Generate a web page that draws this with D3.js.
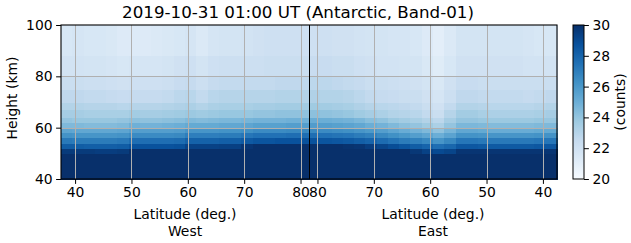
<!DOCTYPE html>
<html>
<head>
<meta charset="utf-8">
<script src="https://cdn.jsdelivr.net/npm/d3@7"></script>
<style>
	body { margin: 0; background: #fff; }
	svg { display: block; font-family: "DejaVu Sans", sans-serif; }
</style>
</head>
<body>
<div id="chart"></div>
<script>
// height bin edges (km), bottom to top
var heightEdges = [40, 50, 52, 54, 56, 58, 60, 62, 64, 67, 70, 75, 80, 88, 100];

// column centres (deg), 2 deg wide, in drawing order
var westLat = [38.5, 40.5, 42.5, 44.5, 46.5, 48.5, 50.5, 52.5, 54.5, 56.5, 58.5,
	60.5, 62.5, 64.5, 66.5, 68.5, 70.5, 72.5, 74.5, 76.5, 78.5, 80.5];
var eastLat = [80.5, 78.5, 76.5, 74.5, 72.5, 70.5, 68.5, 66.5, 64.5, 62.5, 60.5,
	58.5, 56.5, 54.5, 52.5, 50.5, 48.5, 46.5, 44.5, 42.5, 40.5, 38.5];

// counts per column, one value per height bin (bottom to top)
var westCounts = [
	[31, 29.6, 28.3, 27.2, 26.2, 25.4, 24.5, 24.0, 23.5, 23.1, 22.7, 22.3, 21.9, 21.6],
	[31, 29.6, 28.3, 27.1, 26.1, 25.3, 24.5, 23.9, 23.5, 23.1, 22.7, 22.3, 21.9, 21.7],
	[31, 29.6, 28.2, 27.1, 26.1, 25.3, 24.4, 23.9, 23.4, 23.0, 22.6, 22.2, 21.8, 21.6],
	[31, 29.5, 28.2, 27.1, 26.1, 25.3, 24.4, 23.9, 23.4, 23.0, 22.6, 22.2, 21.8, 21.6],
	[31, 29.5, 28.2, 27.1, 26.1, 25.3, 24.4, 23.9, 23.4, 23.0, 22.5, 22.1, 21.7, 21.5],
	[31, 29.6, 28.3, 27.2, 26.2, 25.4, 24.5, 24.0, 23.4, 22.9, 22.4, 22.0, 21.6, 21.3],
	[31, 30.0, 28.7, 27.6, 26.5, 25.7, 24.9, 24.2, 23.6, 23.0, 22.5, 22.1, 21.7, 21.3],
	[31, 30.0, 28.7, 27.6, 26.5, 25.7, 24.8, 24.1, 23.5, 23.0, 22.5, 22.1, 21.7, 21.3],
	[31, 30.0, 28.7, 27.6, 26.5, 25.7, 24.8, 24.1, 23.5, 23.0, 22.5, 22.1, 21.7, 21.4],
	[31, 30.0, 28.7, 27.6, 26.5, 25.7, 24.9, 24.2, 23.6, 23.1, 22.6, 22.2, 21.8, 21.5],
	[31, 30.1, 28.8, 27.7, 26.6, 25.8, 25.0, 24.3, 23.7, 23.2, 22.8, 22.4, 22.0, 21.6],
	[31, 30.5, 29.3, 28.1, 27.0, 26.1, 25.2, 24.5, 23.8, 23.3, 22.9, 22.5, 22.1, 21.7],
	[31, 30.5, 29.3, 28.1, 27.0, 26.1, 25.2, 24.4, 23.7, 23.1, 22.6, 22.2, 21.8, 21.4],
	[31, 30.5, 29.3, 28.1, 27.0, 26.1, 25.2, 24.5, 23.8, 23.3, 22.9, 22.5, 22.1, 21.7],
	[31, 30.6, 29.4, 28.2, 27.1, 26.2, 25.3, 24.6, 23.9, 23.4, 23.0, 22.6, 22.2, 21.8],
	[31, 30.6, 29.4, 28.2, 27.1, 26.2, 25.3, 24.6, 23.9, 23.4, 23.0, 22.6, 22.2, 21.8],
	[31, 30.8, 29.8, 28.4, 27.3, 26.3, 25.4, 24.7, 23.9, 23.4, 23.0, 22.6, 22.2, 21.9],
	[31, 31.0, 30.2, 28.6, 27.5, 26.5, 25.6, 24.8, 24.0, 23.5, 23.0, 22.6, 22.2, 22.0],
	[31, 31.0, 30.2, 28.6, 27.5, 26.5, 25.6, 24.8, 24.0, 23.5, 23.0, 22.6, 22.3, 22.1],
	[31, 31.0, 30.2, 28.7, 27.5, 26.5, 25.6, 24.8, 24.1, 23.6, 23.1, 22.7, 22.3, 22.1],
	[31, 31.0, 30.2, 28.7, 27.6, 26.6, 25.7, 24.9, 24.1, 23.6, 23.1, 22.7, 22.3, 22.1],
	[31, 31.0, 30.2, 28.7, 27.6, 26.6, 25.7, 24.9, 24.1, 23.6, 23.1, 22.7, 22.3, 22.1]
];
var eastCounts = [
	[31, 31.0, 30.2, 28.7, 27.6, 26.6, 25.8, 25.1, 24.2, 23.7, 23.2, 22.8, 22.4, 22.1],
	[31, 31.0, 30.1, 28.6, 27.5, 26.5, 25.7, 25.0, 24.1, 23.6, 23.1, 22.8, 22.4, 22.1],
	[31, 31.0, 30.0, 28.5, 27.4, 26.4, 25.6, 24.9, 24.0, 23.5, 23.1, 22.7, 22.3, 22.0],
	[31, 30.9, 29.9, 28.4, 27.3, 26.3, 25.5, 24.8, 23.9, 23.4, 23.0, 22.6, 22.3, 22.0],
	[31, 30.8, 29.8, 28.2, 27.1, 26.1, 25.3, 24.6, 23.7, 23.2, 22.8, 22.5, 22.1, 21.9],
	[31, 30.6, 29.5, 28.0, 26.9, 25.9, 25.0, 24.3, 23.5, 23.0, 22.6, 22.3, 22.0, 21.8],
	[31, 30.4, 29.2, 27.7, 26.6, 25.7, 24.8, 24.1, 23.3, 22.9, 22.5, 22.3, 21.9, 21.8],
	[31, 30.2, 28.9, 27.4, 26.3, 25.4, 24.5, 23.8, 23.1, 22.8, 22.4, 22.2, 21.9, 21.7],
	[31, 30.0, 28.6, 27.1, 26.0, 25.1, 24.2, 23.6, 23.0, 22.7, 22.3, 22.1, 21.8, 21.7],
	[31, 29.7, 28.3, 26.9, 25.7, 24.8, 24.0, 23.4, 22.9, 22.6, 22.3, 22.0, 21.8, 21.6],
	[31, 29.3, 28.0, 26.6, 25.4, 24.5, 23.7, 23.1, 22.6, 22.3, 22.0, 21.8, 21.5, 21.3],
	[31, 29.0, 27.6, 26.1, 25.0, 24.1, 23.3, 22.8, 22.3, 22.0, 21.7, 21.5, 21.2, 21.0],
	[31, 29.2, 27.9, 26.6, 25.5, 24.7, 24.0, 23.5, 23.0, 22.6, 22.2, 22.0, 21.6, 21.4],
	[31, 29.8, 28.5, 27.3, 26.2, 25.3, 24.6, 24.0, 23.6, 23.1, 22.7, 22.4, 22.0, 21.8],
	[31, 29.8, 28.5, 27.3, 26.2, 25.3, 24.6, 24.0, 23.6, 23.1, 22.7, 22.4, 22.0, 21.8],
	[31, 29.8, 28.4, 27.2, 26.1, 25.2, 24.5, 23.9, 23.4, 23.0, 22.6, 22.3, 22.0, 21.8],
	[31, 29.8, 28.4, 27.2, 26.1, 25.1, 24.4, 23.8, 23.3, 22.9, 22.6, 22.3, 22.0, 21.8],
	[31, 29.8, 28.4, 27.2, 26.1, 25.1, 24.4, 23.8, 23.3, 22.9, 22.6, 22.3, 22.0, 21.8],
	[31, 29.8, 28.4, 27.2, 26.1, 25.1, 24.4, 23.8, 23.3, 22.9, 22.6, 22.3, 22.0, 21.8],
	[31, 29.8, 28.4, 27.2, 26.1, 25.1, 24.4, 23.8, 23.3, 22.9, 22.5, 22.3, 21.9, 21.7],
	[31, 29.8, 28.5, 27.3, 26.2, 25.2, 24.5, 23.9, 23.4, 23.0, 22.6, 22.3, 21.9, 21.6],
	[31, 29.8, 28.5, 27.3, 26.2, 25.2, 24.5, 23.9, 23.5, 23.1, 22.7, 22.3, 21.9, 21.6]
];

var latTicks = [40, 50, 60, 70, 80];
var heightTicks = [40, 60, 80, 100];
var colorTicks = [20, 22, 24, 26, 28, 30];
var title = "2019-10-31 01:00 UT (Antarctic, Band-01)";

// matplotlib "Blues"
var bluesColors = ["#f7fbff", "#deebf7", "#c6dbef", "#9ecae1", "#6baed6",
	"#4292c6", "#2171b5", "#08519c", "#08306b"];

const W = 631, H = 243;
const margin = { top: 25, left: 61, right: 74, bottom: 64 };
const plotRight = W - margin.right;
const plotBottom = H - margin.bottom;
const mid = (margin.left + plotRight) / 2;

const xWest = d3.scaleLinear().domain([37.5, 81.5]).range([margin.left, mid]);
const xEast = d3.scaleLinear().domain([81.5, 37.5]).range([mid, plotRight]);
const yScale = d3.scaleLinear().domain([40, 100]).range([plotBottom, margin.top]);

const colorScale = d3.scaleLinear()
	.domain(d3.range(9).map(i => 20 + i * 10 / 8))
	.range(bluesColors)
	.clamp(true);

const svg = d3.select("#chart").append("svg")
	.attr("width", W)
	.attr("height", H);

function drawSide(lats, counts, xs, cls) {
	var cells = [];
	lats.forEach(function(lat, i) {
		counts[i].forEach(function(v, j) {
			cells.push({ lat: lat, h0: heightEdges[j], h1: heightEdges[j + 1], v: v });
		});
	});
	svg.append("g").attr("class", cls)
		.selectAll("rect")
		.data(cells)
		.enter()
		.append("rect")
		.attr("x", d => Math.min(xs(d.lat - 1), xs(d.lat + 1)))
		.attr("width", d => Math.abs(xs(d.lat + 1) - xs(d.lat - 1)) + 0.5)
		.attr("y", d => yScale(d.h1))
		.attr("height", d => yScale(d.h0) - yScale(d.h1) + 0.5)
		.attr("fill", d => colorScale(d.v))
		.attr("shape-rendering", "crispEdges");
}

drawSide(westLat, westCounts, xWest, "west");
drawSide(eastLat, eastCounts, xEast, "east");

// grid
const grid = svg.append("g").attr("stroke", "#b0b0b0").attr("stroke-width", 1);
[xWest, xEast].forEach(function(xs) {
	grid.selectAll(null)
		.data(latTicks)
		.enter()
		.append("line")
		.attr("x1", d => Math.round(xs(d)) + 0.5)
		.attr("x2", d => Math.round(xs(d)) + 0.5)
		.attr("y1", margin.top)
		.attr("y2", plotBottom);
});
grid.selectAll(null)
	.data(heightTicks.slice(1, -1))
	.enter()
	.append("line")
	.attr("x1", margin.left)
	.attr("x2", plotRight)
	.attr("y1", d => Math.round(yScale(d)) + 0.5)
	.attr("y2", d => Math.round(yScale(d)) + 0.5);

// divider between West and East
svg.append("line")
	.attr("x1", Math.round(mid) + 0.5).attr("x2", Math.round(mid) + 0.5)
	.attr("y1", margin.top).attr("y2", plotBottom)
	.attr("stroke", "#000").attr("stroke-width", 1);

// axes
const fs = 13.9;
const westAxis = d3.axisBottom(xWest).tickValues(latTicks).tickSize(4.9).tickPadding(3.5);
const eastAxis = d3.axisBottom(xEast).tickValues(latTicks).tickSize(4.9).tickPadding(3.5);
const yAxis = d3.axisLeft(yScale).tickValues(heightTicks).tickSize(4.9).tickPadding(3.5);

function styleAxis(g) {
	g.select(".domain").remove();
	g.selectAll("text").attr("font-size", fs).attr("font-family", "DejaVu Sans").attr("fill", "#000");
	g.selectAll("line").attr("stroke", "#000").attr("stroke-width", 1);
}

svg.append("g").attr("transform", "translate(0," + plotBottom + ")").call(westAxis).call(styleAxis);
svg.append("g").attr("transform", "translate(0," + plotBottom + ")").call(eastAxis).call(styleAxis);
svg.append("g").attr("transform", "translate(" + margin.left + ",0)").call(yAxis).call(styleAxis);

// frame
svg.append("rect")
	.attr("x", margin.left).attr("y", margin.top)
	.attr("width", plotRight - margin.left).attr("height", plotBottom - margin.top)
	.attr("fill", "none").attr("stroke", "#000").attr("stroke-width", 1.1);

// axis labels
[[xWest, "West"], [xEast, "East"]].forEach(function(a) {
	var cx = (a[0].range()[0] + a[0].range()[1]) / 2;
	var t = svg.append("text")
		.attr("x", cx)
		.attr("text-anchor", "middle")
		.attr("font-size", fs);
	t.append("tspan").attr("x", cx).attr("y", 219).text("Latitude (deg.)");
	t.append("tspan").attr("x", cx).attr("y", 236).text(a[1]);
});

svg.append("text")
	.attr("transform", "translate(17,98) rotate(-90)")
	.attr("text-anchor", "middle")
	.attr("font-size", fs)
	.text("Height (km)");

svg.append("text")
	.attr("x", 298)
	.attr("y", 18)
	.attr("text-anchor", "middle")
	.attr("font-size", 16.7)
	.text(title);

// colorbar
const cbX = 573, cbW = 11;
const cScale = d3.scaleLinear().domain([20, 30]).range([plotBottom, margin.top]);
const defs = svg.append("defs");
const grad = defs.append("linearGradient")
	.attr("id", "cbgrad")
	.attr("x1", 0).attr("x2", 0).attr("y1", 1).attr("y2", 0);
grad.selectAll("stop")
	.data(bluesColors)
	.enter()
	.append("stop")
	.attr("offset", (d, i) => i / 8)
	.attr("stop-color", d => d);

svg.append("rect")
	.attr("x", cbX).attr("y", margin.top)
	.attr("width", cbW).attr("height", plotBottom - margin.top)
	.attr("fill", "url(#cbgrad)")
	.attr("stroke", "#000").attr("stroke-width", 1);

const cAxis = d3.axisRight(cScale).tickValues(colorTicks).tickSize(4.9).tickPadding(3.5);
svg.append("g")
	.attr("transform", "translate(" + (cbX + cbW) + ",0)")
	.call(cAxis)
	.call(styleAxis);

svg.append("text")
	.attr("transform", "translate(625," + ((margin.top + plotBottom) / 2) + ") rotate(-90)")
	.attr("text-anchor", "middle")
	.attr("font-size", fs)
	.text("(counts)");
</script>
</body>
</html>
